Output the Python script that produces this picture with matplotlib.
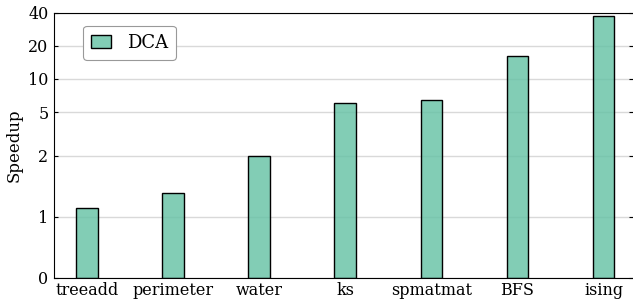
import matplotlib

matplotlib.use("Agg")
import matplotlib.pyplot as plt
import numpy as np

benchmarks = ["treeadd", "perimeter", "water", "ks", "spmatmat", "BFS", "ising"]
speedup_dca = [1.15, 1.39, 2.0, 6.0, 6.4, 16.2, 37.5]
ytick_vals = [0, 1, 2, 5, 10, 20, 40]

plt.rcParams["font.family"] = "DejaVu Serif"

fig = plt.figure(figsize=(6.33, 3.05), dpi=100)
ax = fig.add_axes([54 / 633, 1 - 278 / 305, 579 / 633, (278 - 12.7) / 305])

x = np.arange(len(benchmarks))
# translucent fill so the grid shows through, but a solid black outline
ax.bar(x, speedup_dca, width=0.25, color=(0.4, 0.76, 0.647, 0.82),
       edgecolor="black", linewidth=1.0, label="DCA")

ax.set_yscale("symlog", linthresh=2, linscale=1)
ax.set_ylim(0, 40)
ax.set_yticks(ytick_vals)
ax.set_yticklabels([str(v) for v in ytick_vals])
ax.yaxis.set_minor_locator(matplotlib.ticker.NullLocator())
ax.set_xlim(-0.38, 6.34)
ax.set_xticks(x)
ax.set_xticklabels(benchmarks)

ax.set_axisbelow(True)
ax.grid(axis="y", color="#d9d9d9", lw=1.0)
ax.spines["right"].set_visible(False)
ax.tick_params(axis="y", direction="in", length=3, labelsize=11.5, pad=4, right=True)
ax.tick_params(axis="x", length=0, labelsize=11.5, pad=3)
ax.set_ylabel("Speedup", fontsize=12, labelpad=4)

leg = ax.legend(loc="upper left", bbox_to_anchor=(0.0506, 0.951), borderaxespad=0,
                fontsize=13, handlelength=1.1, handleheight=0.72, handletextpad=0.85,
                borderpad=0.45, fancybox=True, framealpha=1.0)
leg.get_frame().set_edgecolor("#999999")
leg.get_frame().set_linewidth(0.8)

fig.savefig("out.png", dpi=100)
